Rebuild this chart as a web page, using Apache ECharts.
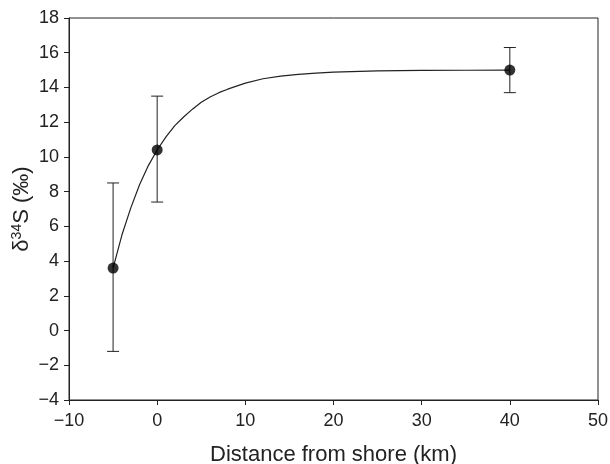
<!DOCTYPE html>
<html>
<head>
<meta charset="utf-8">
<script src="https://cdn.jsdelivr.net/npm/echarts@6/dist/echarts.min.js"></script>
<style>
  html, body { margin: 0; padding: 0; background: #fff; }
  #chart { width: 610px; height: 464px; }
</style>
</head>
<body>
<div id="chart"></div>
<script>
// measured points: distance (km), mean, lower and upper error bar ends
var pointX = [-5, 0, 40];
var pointY = [3.6, 10.4, 15.0];
var errLow = [-1.2, 7.4, 13.7];
var errHigh = [8.5, 13.5, 16.3];

// fitted curve
var curveX = [-5, -4, -3, -2, -1, 0, 1, 2, 3, 4, 5, 6, 7, 8, 10, 12, 14, 16, 18, 20, 25, 30, 35, 40];
var curveY = [3.6, 5.5, 7.05, 8.4, 9.5, 10.4, 11.15, 11.8, 12.3, 12.75, 13.15, 13.45, 13.7, 13.9, 14.25, 14.5, 14.65, 14.75, 14.82, 14.88, 14.95, 14.98, 14.99, 15.0];

var chart = echarts.init(document.getElementById('chart'));

var fam = '"Liberation Sans", Arial, sans-serif';
var ink = '#222';

function minus(v) {
  return String(v).replace('-', '\u2212');
}

var curve = curveX.map(function (x, i) { return [x, curveY[i]]; });
var points = pointX.map(function (x, i) { return [x, pointY[i]]; });
var bars = pointX.map(function (x, i) { return [x, errLow[i], errHigh[i]]; });

var option = {
  backgroundColor: '#fff',
  animation: false,
  grid: {
    left: 69, right: 12, top: 18, bottom: 64,
    outerBoundsMode: 'none',
    containLabel: false,
    show: true, borderColor: ink, borderWidth: 1
  },
  xAxis: {
    type: 'value',
    min: -10, max: 50, interval: 10,
    name: 'Distance from shore (km)',
    nameLocation: 'middle',
    nameGap: 44,
    nameMoveOverlap: false,
    nameTextStyle: { fontFamily: fam, fontSize: 22, color: ink },
    axisLine: { onZero: false, lineStyle: { color: ink, width: 1 } },
    axisTick: { show: true, length: 5, lineStyle: { color: ink } },
    axisLabel: { fontFamily: fam, fontSize: 18, color: ink, margin: 12, formatter: minus },
    splitLine: { show: false }
  },
  yAxis: {
    type: 'value',
    min: -4, max: 18, interval: 2,
    name: '{a|δ}{s|34}{a|S (‰)}',
    nameLocation: 'middle',
    nameGap: 35,
    nameMoveOverlap: false,
    nameTextStyle: {
      fontFamily: fam, fontSize: 22, color: ink,
      rich: {
        a: { fontFamily: fam, fontSize: 22, color: ink, lineHeight: 24 },
        s: { fontFamily: fam, fontSize: 14, color: ink, verticalAlign: 'top', lineHeight: 24 }
      }
    },
    axisLine: { onZero: false, lineStyle: { color: ink, width: 1 } },
    axisTick: { show: true, length: 5, lineStyle: { color: ink } },
    axisLabel: { fontFamily: fam, fontSize: 18, color: ink, margin: 10, formatter: minus },
    splitLine: { show: false }
  },
  series: [
    {
      type: 'line',
      data: curve,
      showSymbol: false,
      smooth: false,
      lineStyle: { color: ink, width: 1.2 },
      z: 2
    },
    {
      type: 'custom',
      data: bars,
      renderItem: function (params, api) {
        var x = api.value(0);
        var lo = api.coord([x, api.value(1)]);
        var hi = api.coord([x, api.value(2)]);
        var cap = 6;
        var style = { stroke: ink, lineWidth: 1 };
        return {
          type: 'group',
          children: [
            { type: 'line', shape: { x1: lo[0], y1: lo[1], x2: hi[0], y2: hi[1] }, style: style },
            { type: 'line', shape: { x1: lo[0] - cap, y1: lo[1], x2: lo[0] + cap, y2: lo[1] }, style: style },
            { type: 'line', shape: { x1: hi[0] - cap, y1: hi[1], x2: hi[0] + cap, y2: hi[1] }, style: style }
          ]
        };
      },
      z: 3
    },
    {
      type: 'scatter',
      data: points,
      symbol: 'circle',
      symbolSize: 11,
      itemStyle: { color: '#000' },
      z: 4
    }
  ]
};

chart.setOption(option);
</script>
</body>
</html>
